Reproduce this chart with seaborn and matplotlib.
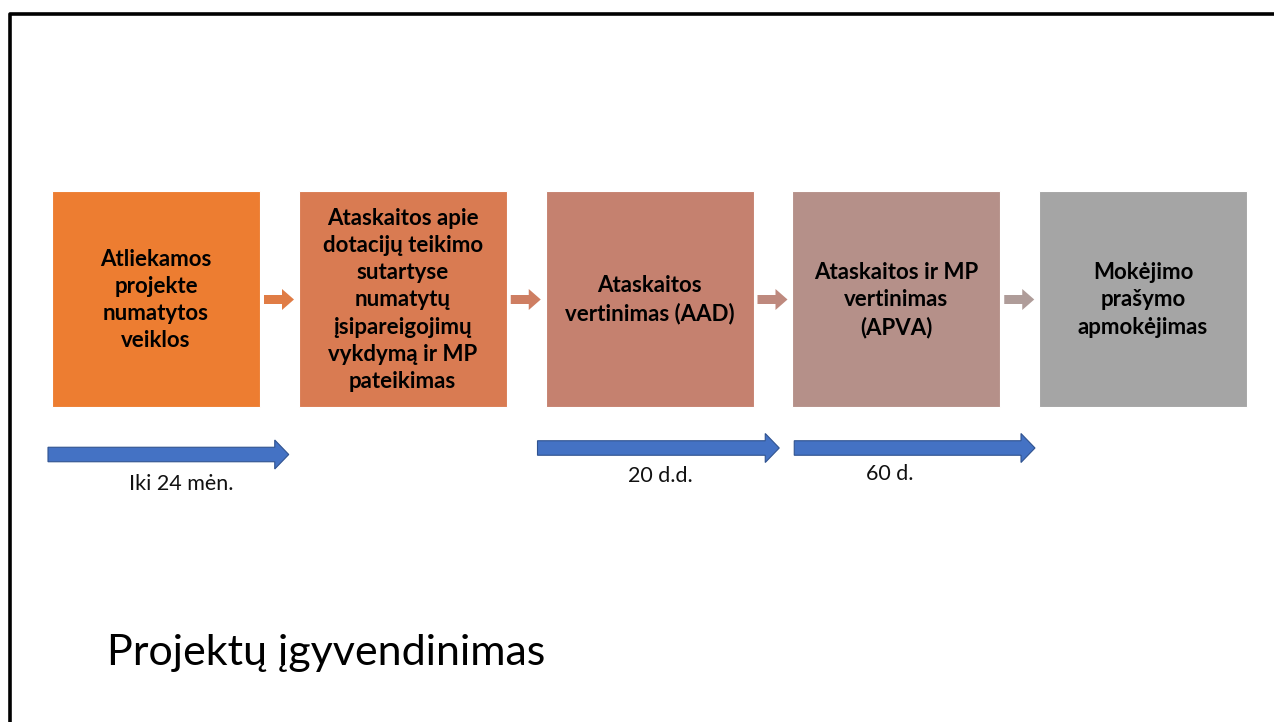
import matplotlib.pyplot as plt
import seaborn as sns
from matplotlib.patches import Rectangle, FancyArrow

# process steps, left to right
steps = [
    "Atliekamos\nprojekte\nnumatytos\nveiklos",
    "Ataskaitos apie\ndotacijų teikimo\nsutartyse\nnumatytų\nįsipareigojimų\nvykdymą ir MP\npateikimas",
    "Ataskaitos\nvertinimas (AAD)",
    "Ataskaitos ir MP\nvertinimas\n(APVA)",
    "Mokėjimo\nprašymo\napmokėjimas",
]
step_colors = ["#ED7D31", "#D97B52", "#C5816F", "#B59089", "#A5A5A5"]
link_colors = ["#E07C45", "#CE7E62", "#BE897E", "#AF9C99"]

# durations: label, first step, last step
durations = ["Iki 24 mėn.", "20 d.d.", "60 d."]
dur_from = [0, 2, 3]
dur_to = [1, 3, 4]

title = "Projektų įgyvendinimas"

sns.set_theme(style="white")
plt.rcParams['font.family'] = ['Lato', 'DejaVu Sans']

W, H = 1274, 722
fig = plt.figure(figsize=(W / 100, H / 100), dpi=100)
ax = fig.add_axes([0, 0, 1, 1])
ax.set_xlim(0, W)
ax.set_ylim(H, 0)
ax.axis('off')

# slide frame
ax.plot([9.5, 9.5, W], [H, 13.5, 13.5], color="black", lw=2.6, solid_capstyle='butt')

x0, pitch, bw = 52, 246.75, 208
top, bh = 191, 216
for i, (txt, c) in enumerate(zip(steps, step_colors)):
    x = x0 + i * pitch
    ax.add_patch(Rectangle((x, top), bw, bh, facecolor=c, edgecolor='white', lw=0.8))
    ax.text(x + bw / 2, top + bh / 2 + 1, txt, ha='center', va='center', fontsize=16,
            fontweight='bold', color='black', linespacing=1.36)

# small connectors between steps
for i, c in enumerate(link_colors):
    xs = x0 + i * pitch + bw + 4
    ax.add_patch(FancyArrow(xs, 299.5, 30, 0, width=9, head_width=21, head_length=12,
                            length_includes_head=True, facecolor=c, edgecolor='none'))

# blue duration arrows (layout offsets per arrow)
starts_off = [4, 8, -2]
ends_off = [10, 13, 4]
label_pos = [(181, 484), (660, 476), (890, 474)]
arrow_y = [454.5, 448, 448]
for k, (lab, a, b) in enumerate(zip(durations, dur_from, dur_to)):
    xa = x0 + a * pitch - starts_off[k]
    xb = x0 + b * pitch - ends_off[k]
    ax.add_patch(FancyArrow(xa, arrow_y[k], xb - xa, 0, width=14.5, head_width=29,
                            head_length=14, length_includes_head=True,
                            facecolor="#4472C4", edgecolor="#2F528F", lw=0.8))
    ax.text(*label_pos[k], lab, ha='center', va='center', fontsize=15.5, color='#111111')

ax.text(107, 665, title, ha='left', va='baseline', fontsize=31, color='black')

fig.savefig("out.png", dpi=100)
